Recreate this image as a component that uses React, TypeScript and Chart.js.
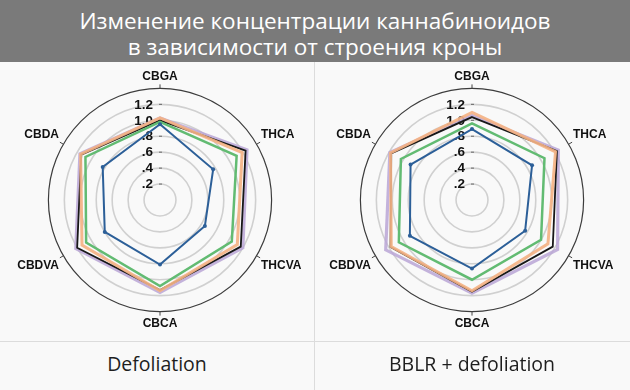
import React, { useEffect, useRef } from "react";
import { Chart, registerables } from "chart.js";

Chart.register(...registerables);

// Cannabinoid axes, clockwise from the top
const categories = ["CBGA", "THCA", "THCVA", "CBCA", "CBDVA", "CBDA"];

// Radial ring values and their printed labels
const tickValues = [0.2, 0.4, 0.6, 0.8, 1.0, 1.2];
const tickLabels = [".2", ".4", ".6", ".8", "1.0", "1.2"];

// Defoliation
const defolBlue = [0.95, 0.77, 0.65, 0.81, 0.8, 0.83];
const defolGreen = [0.98, 1.11, 1.04, 1.08, 1.07, 1.08];
const defolBlack = [1.0, 1.24, 1.17, 1.13, 1.2, 1.14];
const defolOrange = [1.03, 1.19, 1.12, 1.14, 1.13, 1.15];
const defolPurple = [1.03, 1.26, 1.2, 1.16, 1.22, 1.16];

// BBLR + defoliation
const bblrBlue = [0.89, 0.87, 0.77, 0.86, 0.9, 0.89];
const bblrGreen = [0.96, 1.05, 1.0, 1.0, 1.06, 1.03];
const bblrBlack = [1.04, 1.23, 1.17, 1.15, 1.18, 1.17];
const bblrOrange = [1.1, 1.21, 1.1, 1.14, 1.17, 1.18];
const bblrPurple = [1.06, 1.25, 1.24, 1.17, 1.25, 1.19];

const panelTitles = ["Defoliation", "BBLR + defoliation"];

const LABEL_FONT = '"Liberation Sans", Arial, sans-serif';

// Ring value labels on the vertical axis plus small tick marks
const ringLabels = {
  id: "ringLabels",
  beforeDatasetsDraw(chart: any) {
    const r = chart.scales.r;
    const ctx = chart.ctx;
    ctx.save();
    ctx.font = `bold 13.5px ${LABEL_FONT}`;
    ctx.textAlign = "right";
    ctx.textBaseline = "middle";
    tickValues.forEach((v, i) => {
      const y = r.yCenter - r.getDistanceFromCenterForValue(v);
      ctx.fillStyle = "#111";
      ctx.fillText(tickLabels[i], r.xCenter - 7, y + 0.5);
      ctx.strokeStyle = "#666";
      ctx.lineWidth = 1;
      ctx.beginPath();
      ctx.moveTo(r.xCenter - 1, y);
      ctx.lineTo(r.xCenter + 2, y);
      ctx.stroke();
    });
    const outer = r.getDistanceFromCenterForValue(r.max);
    ctx.strokeStyle = "#444";
    categories.forEach((_, i) => {
      const a = r.getIndexAngle(i) - Math.PI / 2;
      ctx.beginPath();
      ctx.moveTo(r.xCenter + Math.cos(a) * outer, r.yCenter + Math.sin(a) * outer);
      ctx.lineTo(r.xCenter + Math.cos(a) * (outer + 4), r.yCenter + Math.sin(a) * (outer + 4));
      ctx.stroke();
    });
    ctx.restore();
  },
};

function makeSet(label: string, data: number[], color: string, width: number, dot: number) {
  return {
    label,
    data,
    borderColor: color,
    backgroundColor: color,
    borderWidth: width,
    pointRadius: dot,
    pointBorderWidth: 0,
    fill: false,
  };
}

function RadarPanel({ series }: { series: number[][] }) {
  const ref = useRef<HTMLCanvasElement>(null);
  useEffect(() => {
    if (!ref.current) return;
    const [blue, green, black, orange, purple] = series;
    const chart = new Chart(ref.current, {
      type: "radar",
      data: {
        labels: categories,
        // first dataset is painted last, so blue ends up on top
        datasets: [
          makeSet("blue", blue, "#2c5f98", 2, 2),
          makeSet("green", green, "#62bb72", 2.5, 0),
          makeSet("orange", orange, "rgba(244,178,132,0.92)", 3, 0),
          makeSet("black", black, "#181818", 1.8, 0),
          makeSet("purple", purple, "rgba(186,166,214,0.85)", 3.2, 0),
        ],
      },
      options: {
        responsive: false,
        animation: false,
        plugins: { legend: { display: false }, tooltip: { enabled: false } },
        elements: { line: { tension: 0 } },
        scales: {
          r: {
            min: 0,
            max: 1.4,
            beginAtZero: true,
            ticks: { display: false, stepSize: 0.2 },
            angleLines: { display: false },
            grid: {
              circular: true,
              color: (c: any) => (c.tick && c.tick.value > 1.3 ? "#3c3c3c" : "#d0d0d0"),
              lineWidth: (c: any) => (c.tick && c.tick.value > 1.3 ? 1.2 : 1.6),
            },
            pointLabels: {
              color: "#111",
              padding: 5,
              font: { family: LABEL_FONT, size: 12, weight: "bold" },
            },
          },
        },
      },
      plugins: [ringLabels],
    });
    return () => chart.destroy();
  }, [series]);
  return (
    <canvas
      ref={ref}
      width={314}
      height={263}
      style={{ display: "block", width: 314, height: 263, filter: "blur(0.35px)" }}
    />
  );
}

const leftSeries = [defolBlue, defolGreen, defolBlack, defolOrange, defolPurple];
const rightSeries = [bblrBlue, bblrGreen, bblrBlack, bblrOrange, bblrPurple];

export default function App() {
  const uiFont = '"Open Sans", "Noto Sans", sans-serif';
  return (
    <div
      style={{
        position: "absolute",
        left: 0,
        top: 0,
        width: 630,
        height: 390,
        overflow: "hidden",
        background: "#f9f9f9",
        fontFamily: uiFont,
      }}
    >
      <div
        style={{
          position: "absolute",
          left: 0,
          top: 0,
          width: 630,
          height: 62,
          background: "#7a7a7a",
          color: "#fff",
          textAlign: "center",
          fontSize: 22.5,
          lineHeight: "26px",
          paddingTop: 8,
          boxSizing: "border-box",
        }}
      >
        Изменение концентрации каннабиноидов
        <br />
        в зависимости от строения кроны
      </div>
      <div style={{ position: "absolute", left: 314, top: 62, width: 1, height: 328, background: "#dcdcdc" }} />
      <div style={{ position: "absolute", left: 0, top: 341, width: 630, height: 1, background: "#dcdcdc" }} />
      <div style={{ position: "absolute", left: 3, top: 69 }}>
        <RadarPanel series={leftSeries} />
      </div>
      <div style={{ position: "absolute", left: 315, top: 69 }}>
        <RadarPanel series={rightSeries} />
      </div>
      {panelTitles.map((t, i) => (
        <div
          key={t}
          style={{
            position: "absolute",
            left: i === 0 ? 0 : 315,
            width: 314,
            top: 351,
            textAlign: "center",
            fontSize: 19.5,
            lineHeight: "26px",
            color: "#1e1e1e",
          }}
        >
          {t}
        </div>
      ))}
    </div>
  );
}
